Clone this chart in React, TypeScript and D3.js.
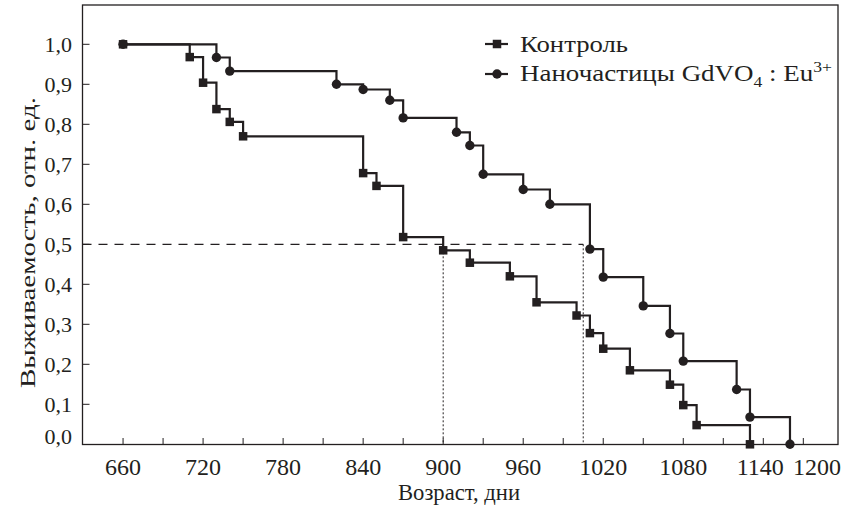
import React, { useEffect, useRef } from 'react';
import * as d3 from 'd3';

// Kaplan–Meier style survival steps
const controlDays = [660, 710, 720, 730, 740, 750, 840, 850, 870, 900, 920, 950, 970, 1000, 1010, 1020, 1040, 1070, 1080, 1090, 1130];
const controlSurv = [1.0, 0.968, 0.904, 0.838, 0.806, 0.77, 0.678, 0.646, 0.518, 0.485, 0.454, 0.42, 0.355, 0.322, 0.278, 0.239, 0.185, 0.149, 0.098, 0.048, 0.0];

const nanoDays = [660, 730, 740, 820, 840, 860, 870, 910, 920, 930, 960, 980, 1010, 1020, 1050, 1070, 1080, 1120, 1130, 1160];
const nanoSurv = [1.0, 0.967, 0.933, 0.9, 0.887, 0.86, 0.816, 0.78, 0.747, 0.675, 0.637, 0.6, 0.488, 0.418, 0.346, 0.277, 0.208, 0.137, 0.068, 0.0];

const medianDays = [900, 1005];
const medianLevel = 0.5;

const xTicks = [660, 690, 720, 750, 780, 810, 840, 870, 900, 930, 960, 990, 1020, 1050, 1080, 1110, 1140, 1170];
const xLabels = [660, 720, 780, 840, 900, 960, 1020, 1080, 1140, 1200];
const yTicks = [0.0, 0.1, 0.2, 0.3, 0.4, 0.5, 0.6, 0.7, 0.8, 0.9, 1.0];

const INK = '#231f20';
const FONT = '"Liberation Serif", "Times New Roman", serif';

const App = () => {
  const svgRef = useRef<SVGSVGElement>(null);

  useEffect(() => {
    const svg = d3.select(svgRef.current);
    svg.selectAll('*').remove();

    const left = 82.5, right = 838, top = 5, bottom = 444.5;
    const x = d3.scaleLinear().domain([629.6, 1196]).range([left, right]);
    const y = d3.scaleLinear().domain([0, 1.0]).range([444.3, 44.3]);

    // frame
    svg.append('rect')
      .attr('x', left).attr('y', top)
      .attr('width', right - left).attr('height', bottom - top)
      .attr('fill', 'none').attr('stroke', INK).attr('stroke-width', 1.3);

    // ticks point inward
    svg.selectAll('.xt').data(xTicks).join('line')
      .attr('x1', (d) => x(d)).attr('x2', (d) => x(d))
      .attr('y1', bottom).attr('y2', bottom - 6.5)
      .attr('stroke', INK).attr('stroke-width', 1);
    svg.selectAll('.yt').data(yTicks.filter((d) => d > 0)).join('line')
      .attr('x1', left).attr('x2', left + 7)
      .attr('y1', (d) => y(d)).attr('y2', (d) => y(d))
      .attr('stroke', INK).attr('stroke-width', 1);

    // tick labels (last one squeezed against the frame, as in the figure)
    svg.selectAll('.xl').data(xLabels).join('text')
      .attr('x', (d) => (d === 1200 ? 817 : d === 1140 ? x(d) - 3 : x(d)))
      .attr('y', 475)
      .attr('text-anchor', 'middle')
      .attr('font-family', FONT).attr('font-size', 24)
      .attr('fill', INK)
      .text((d) => d);
    svg.selectAll('.yl').data(yTicks).join('text')
      .attr('x', 72)
      .attr('y', (d) => (d === 0 ? y(d) : y(d) + 7.5))
      .attr('text-anchor', 'end')
      .attr('font-family', FONT).attr('font-size', 22)
      .attr('fill', INK)
      .text((d) => d.toFixed(1).replace('.', ','));

    // axis titles
    svg.append('text')
      .attr('x', 459).attr('y', 500)
      .attr('text-anchor', 'middle')
      .attr('font-family', FONT).attr('font-size', 24)
      .attr('textLength', 122).attr('lengthAdjust', 'spacingAndGlyphs')
      .attr('fill', INK)
      .text('Возраст, дни');
    svg.append('text')
      .attr('transform', 'translate(35,242.5) rotate(-90)')
      .attr('text-anchor', 'middle')
      .attr('font-family', FONT).attr('font-size', 22)
      .attr('textLength', 291).attr('lengthAdjust', 'spacingAndGlyphs')
      .attr('fill', INK)
      .text('Выживаемость, отн. ед.');

    // median guides
    svg.append('line')
      .attr('x1', left).attr('x2', x(medianDays[1]))
      .attr('y1', y(medianLevel)).attr('y2', y(medianLevel))
      .attr('stroke', INK).attr('stroke-width', 1.2)
      .attr('stroke-dasharray', '9,7');
    svg.selectAll('.med').data(medianDays).join('line')
      .attr('x1', (d) => x(d)).attr('x2', (d) => x(d))
      .attr('y1', y(medianLevel)).attr('y2', bottom)
      .attr('stroke', INK).attr('stroke-width', 1)
      .attr('stroke-dasharray', '2,2');

    const step = d3.line<number[]>()
      .x((d) => x(d[0]))
      .y((d) => y(d[1]))
      .curve(d3.curveStepAfter);

    const control = controlDays.map((d, i) => [d, controlSurv[i]]);
    const nano = nanoDays.map((d, i) => [d, nanoSurv[i]]);

    svg.append('path').attr('d', step(control))
      .attr('fill', 'none').attr('stroke', INK).attr('stroke-width', 2.2);
    svg.append('path').attr('d', step(nano))
      .attr('fill', 'none').attr('stroke', INK).attr('stroke-width', 2.2);

    const sq = 8.5;
    svg.selectAll('.sq').data(control).join('rect')
      .attr('x', (d) => x(d[0]) - sq / 2)
      .attr('y', (d) => y(d[1]) - sq / 2)
      .attr('width', sq).attr('height', sq)
      .attr('fill', INK);
    svg.selectAll('.ci').data(nano).join('circle')
      .attr('cx', (d) => x(d[0]))
      .attr('cy', (d) => y(d[1]))
      .attr('r', 4.7)
      .attr('fill', INK);

    // legend
    const lg = svg.append('g');
    lg.append('line').attr('x1', 485).attr('x2', 508).attr('y1', 44).attr('y2', 44)
      .attr('stroke', INK).attr('stroke-width', 2.2);
    lg.append('rect').attr('x', 497 - sq / 2).attr('y', 44 - sq / 2)
      .attr('width', sq).attr('height', sq).attr('fill', INK);
    lg.append('line').attr('x1', 485).attr('x2', 508).attr('y1', 74).attr('y2', 74)
      .attr('stroke', INK).attr('stroke-width', 2.2);
    lg.append('circle').attr('cx', 497).attr('cy', 74).attr('r', 4.7).attr('fill', INK);

    lg.append('text')
      .attr('x', 520).attr('y', 52)
      .attr('font-family', FONT).attr('font-size', 23).attr('fill', INK)
      .attr('textLength', 108).attr('lengthAdjust', 'spacingAndGlyphs')
      .text('Контроль');
    const t2 = lg.append('text')
      .attr('x', 520).attr('y', 81)
      .attr('font-family', FONT).attr('font-size', 23).attr('fill', INK)
      .attr('textLength', 312).attr('lengthAdjust', 'spacingAndGlyphs');
    t2.append('tspan').text('Наночастицы GdVO');
    t2.append('tspan').attr('font-size', 15).attr('dy', 6).text('4');
    t2.append('tspan').attr('dy', -6).text(' : Eu');
    t2.append('tspan').attr('font-size', 15).attr('dy', -9).text('3+');
  }, []);

  return (
    <svg
      ref={svgRef}
      width={844}
      height={509}
      style={{ position: 'absolute', left: 0, top: 0, background: '#fff' }}
    />
  );
};

export default App;
